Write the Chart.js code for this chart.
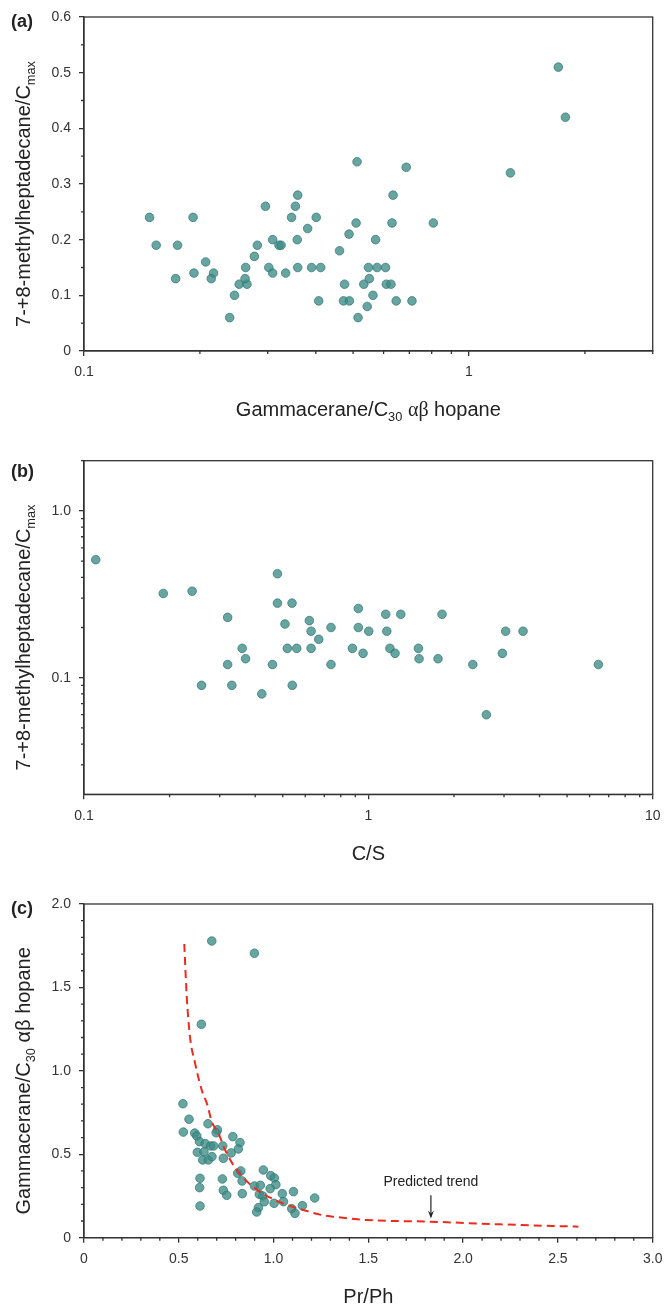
<!DOCTYPE html>
<html><head><meta charset="utf-8">
<script src="https://cdn.jsdelivr.net/npm/chart.js@4.4.1/dist/chart.umd.min.js"></script>
<style>
html,body{margin:0;padding:0;background:#fff;}
#wrap{position:relative;width:664px;height:1305px;background:#fff;}
canvas{position:absolute;left:0;}
</style></head><body>
<div id="wrap">
<canvas id="ca" width="664" height="430" style="top:0px"></canvas>
<canvas id="cb" width="664" height="440" style="top:430px"></canvas>
<canvas id="cc" width="664" height="435" style="top:870px"></canvas>
</div>
<script>
// ---------- Panel (a): Gammacerane/C30 hopane vs 7-+8-methylheptadecane/Cmax ----------
const A_X = [0.148,0.154,0.175,0.173,0.192,0.193,0.207,0.217,0.214,0.239,0.246,0.253,0.265,0.262,0.263,0.277,0.282,0.296,0.302,0.309,0.309,0.321,0.325,0.334,0.346,0.354,0.359,0.358,0.359,0.381,0.390,0.401,0.412,0.407,0.461,0.475,0.472,0.489,0.488,0.509,0.512,0.515,0.533,0.544,0.548,0.551,0.563,0.572,0.577,0.607,0.610,0.627,0.631,0.635,0.647,0.687,0.711,0.808,1.281,1.706,1.780];
const A_Y = [0.24,0.19,0.19,0.13,0.24,0.14,0.16,0.14,0.13,0.06,0.10,0.12,0.12,0.13,0.15,0.17,0.19,0.26,0.15,0.20,0.14,0.19,0.19,0.14,0.24,0.26,0.28,0.20,0.15,0.22,0.15,0.24,0.15,0.09,0.18,0.12,0.09,0.09,0.21,0.23,0.34,0.06,0.12,0.08,0.15,0.13,0.10,0.20,0.15,0.15,0.12,0.12,0.23,0.28,0.09,0.33,0.09,0.23,0.32,0.51,0.42];
const A_XTICKS = [0.1, 1];
const A_XLABELS = ['0.1', '1'];
const A_XMINOR = [0.2,0.3,0.4,0.5,0.6,0.7,0.8,0.9,2,3];
const A_YTICKS = [0,0.1,0.2,0.3,0.4,0.5,0.6];
const A_YLABELS = ['0','0.1','0.2','0.3','0.4','0.5','0.6'];
const A_YMINOR = [0.05,0.15,0.25,0.35,0.45,0.55];

// ---------- Panel (b): C/S vs 7-+8-methylheptadecane/Cmax ----------
const B_X = [0.110,0.190,0.240,0.259,0.320,0.320,0.331,0.360,0.370,0.422,0.460,0.479,0.479,0.509,0.519,0.539,0.540,0.560,0.620,0.629,0.629,0.669,0.739,0.739,0.879,0.922,0.922,0.958,1.003,1.151,1.161,1.191,1.241,1.300,1.500,1.508,1.758,1.816,2.33,2.60,2.96,3.04,3.50,6.44];
const B_Y = [0.51,0.32,0.33,0.09,0.23,0.12,0.09,0.15,0.13,0.08,0.12,0.42,0.28,0.21,0.15,0.28,0.09,0.15,0.22,0.19,0.15,0.17,0.20,0.12,0.15,0.26,0.20,0.14,0.19,0.24,0.19,0.15,0.14,0.24,0.15,0.13,0.13,0.24,0.12,0.06,0.14,0.19,0.19,0.12];
const B_XTICKS = [0.1, 1, 10];
const B_XLABELS = ['0.1', '1', '10'];
const B_XMINOR = [0.2,0.3,0.4,0.5,0.6,0.7,0.8,0.9,2,3,4,5,6,7,8,9];
const B_YTICKS = [0.1, 1];
const B_YLABELS = ['0.1', '1.0'];
const B_YMINOR = [0.03,0.04,0.05,0.06,0.07,0.08,0.09,0.2,0.3,0.4,0.5,0.6,0.7,0.8,0.9,2];

// ---------- Panel (c): Pr/Ph vs Gammacerane/C30 hopane ----------
const C_X = [0.674,0.899,0.619,0.522,0.554,0.524,0.654,0.704,0.697,0.584,0.595,0.609,0.639,0.668,0.684,0.732,0.598,0.633,0.626,0.656,0.675,0.735,0.785,0.823,0.814,0.776,0.811,0.827,0.834,0.612,0.610,0.612,0.730,0.735,0.753,0.835,0.899,0.930,0.946,0.985,1.004,1.012,0.982,0.925,0.943,0.951,1.003,0.920,0.911,1.046,1.052,1.105,1.096,1.113,1.152,1.217];
const C_Y = [1.778,1.705,1.279,0.803,0.710,0.633,0.683,0.646,0.629,0.627,0.610,0.576,0.564,0.550,0.550,0.550,0.512,0.514,0.466,0.466,0.486,0.476,0.606,0.570,0.532,0.508,0.386,0.400,0.340,0.356,0.300,0.190,0.352,0.284,0.254,0.264,0.310,0.314,0.406,0.372,0.358,0.318,0.294,0.260,0.250,0.216,0.206,0.180,0.154,0.264,0.216,0.276,0.174,0.146,0.192,0.238];
const TREND_X = [0.529,0.542,0.559,0.586,0.621,0.651,0.674,0.709,0.744,0.806,0.902,1.008,1.096,1.157,1.254,1.316,1.492,1.826,2.195,2.608];
const TREND_Y = [1.760,1.444,1.205,1.045,0.885,0.795,0.695,0.626,0.526,0.406,0.296,0.226,0.186,0.166,0.136,0.126,0.106,0.096,0.080,0.066];
const C_XTICKS = [0,0.5,1,1.5,2,2.5,3];
const C_XLABELS = ['0','0.5','1.0','1.5','2.0','2.5','3.0'];
const C_XMINOR = [0.1,0.2,0.3,0.4,0.6,0.7,0.8,0.9,1.1,1.2,1.3,1.4,1.6,1.7,1.8,1.9,2.1,2.2,2.3,2.4,2.6,2.7,2.8,2.9];
const C_YTICKS = [0,0.5,1,1.5,2];
const C_YLABELS = ['0','0.5','1.0','1.5','2.0'];
const C_YMINOR = [0.1,0.2,0.3,0.4,0.6,0.7,0.8,0.9,1.1,1.2,1.3,1.4,1.6,1.7,1.8,1.9];
const NOTE_TEXT = 'Predicted trend';
const NOTE_X = 1.83;
const NOTE_TEXT_Y = 0.33, NOTE_ARROW_TOP = 0.255, NOTE_ARROW_TIP = 0.115;

// ---------- styles ----------
const SANS = "'Liberation Sans', Arial, Helvetica, sans-serif";
const SERIF = "'Liberation Serif', 'Times New Roman', serif";
const INK = '#333333';
const PT_FILL = 'rgba(62,140,135,0.78)';
const PT_EDGE = 'rgba(44,118,114,0.9)';

function pts(xs, ys){ return xs.map((x,i)=>({x:x, y:ys[i]})); }

function drawRich(ctx, segs, size){
  let w = 0;
  const items = segs.map(s=>{
    const sz = s.sub ? size*0.64 : size;
    const font = sz + 'px ' + (s.serif ? SERIF : SANS);
    ctx.font = font;
    const m = ctx.measureText(s.t).width;
    w += m;
    return {t:s.t, font:font, m:m, dy: s.sub ? size*0.24 : 0};
  });
  let x = -w/2;
  const base = size*0.36;
  ctx.textAlign = 'left'; ctx.textBaseline = 'alphabetic';
  items.forEach(it=>{ ctx.font = it.font; ctx.fillText(it.t, x, base+it.dy); x += it.m; });
}

const DECOR = {
  ca: { minorX:A_XMINOR, minorY:A_YMINOR, label:'(a)', labelDy:5,
        xTitle:[{t:'Gammacerane/C'},{t:'30',sub:true},{t:' '},{t:'\u03b1\u03b2',serif:true},{t:' hopane'}],
        yTitle:[{t:'7-+8-methylheptadecane/C'},{t:'max',sub:true}] },
  cb: { minorX:B_XMINOR, minorY:B_YMINOR, label:'(b)', labelDy:11,
        xTitle:[{t:'C/S'}],
        yTitle:[{t:'7-+8-methylheptadecane/C'},{t:'max',sub:true}] },
  cc: { minorX:C_XMINOR, minorY:C_YMINOR, label:'(c)', labelDy:5,
        xTitle:[{t:'Pr/Ph'}],
        yTitle:[{t:'Gammacerane/C'},{t:'30',sub:true},{t:' \u03b1\u03b2 hopane'}],
        note:true }
};

const decor = {
  id:'decor',
  afterDraw(chart){
    const d = DECOR[chart.canvas.id]; if(!d) return;
    const ctx = chart.ctx, a = chart.chartArea, sx = chart.scales.x, sy = chart.scales.y;
    ctx.save();
    ctx.strokeStyle = INK; ctx.lineWidth = 1.3;
    ctx.strokeRect(a.left, a.top, a.right-a.left, a.bottom-a.top);
    ctx.beginPath();
    d.minorX.forEach(v=>{ const p = sx.getPixelForValue(v); ctx.moveTo(p, a.bottom); ctx.lineTo(p, a.bottom+3); });
    d.minorY.forEach(v=>{ const p = sy.getPixelForValue(v); ctx.moveTo(a.left-3, p); ctx.lineTo(a.left, p); });
    ctx.stroke();
    ctx.fillStyle = '#222';
    ctx.save(); ctx.translate((a.left+a.right)/2, a.bottom+58); drawRich(ctx, d.xTitle, 20); ctx.restore();
    ctx.save(); ctx.translate(23, (a.top+a.bottom)/2 + 10); ctx.rotate(-Math.PI/2); drawRich(ctx, d.yTitle, 20); ctx.restore();
    ctx.font = 'bold 18px ' + SANS; ctx.textAlign='left'; ctx.textBaseline='middle';
    ctx.fillText(d.label, 11, a.top + d.labelDy);
    if (d.note){
      const nx = sx.getPixelForValue(NOTE_X);
      const ty = sy.getPixelForValue(NOTE_TEXT_Y);
      const y0 = sy.getPixelForValue(NOTE_ARROW_TOP), y1 = sy.getPixelForValue(NOTE_ARROW_TIP);
      ctx.font = '14px ' + SANS; ctx.textAlign='center'; ctx.textBaseline='middle';
      ctx.fillText(NOTE_TEXT, nx, ty);
      ctx.strokeStyle = '#222'; ctx.lineWidth = 1.2;
      ctx.beginPath(); ctx.moveTo(nx, y0); ctx.lineTo(nx, y1-2); ctx.stroke();
      ctx.beginPath(); ctx.moveTo(nx, y1); ctx.lineTo(nx-3, y1-8); ctx.lineTo(nx, y1-5); ctx.lineTo(nx+3, y1-8); ctx.closePath(); ctx.fill();
    }
    ctx.restore();
  }
};

function axis(type, min, max, ticks, labels, dir, size){
  return {
    type:type, min:min, max:max, position: dir==='x' ? 'bottom' : 'left',
    afterBuildTicks: s=>{ s.ticks = ticks.map(v=>({value:v})); },
    afterFit: s=>{
      if(dir==='x') s.height = size; else s.width = size;
      s.paddingLeft = 0; s.paddingRight = 0; s.paddingTop = 0; s.paddingBottom = 0;
    },
    ticks:{ autoSkip:false, maxRotation:0, minRotation:0, padding:8, color:INK,
            font:{size:14, family:SANS}, callback:(v,i)=>labels[i] },
    grid:{ display:true, drawOnChartArea:false, drawTicks:true, tickLength:5, color:INK, lineWidth:1.3 },
    border:{ display:true, color:INK, width:1.3 },
    title:{ display:false }
  };
}

function scatterSet(xs, ys){
  return { type:'scatter', data:pts(xs, ys), backgroundColor:PT_FILL, borderColor:PT_EDGE,
           borderWidth:0.8, pointRadius:4.3, order:1 };
}

function make(id, top, areaBottom, xAxis, yAxis, datasets){
  const cv = document.getElementById(id);
  return new Chart(cv, {
    type:'scatter',
    data:{ datasets:datasets },
    options:{
      responsive:false, animation:false, devicePixelRatio:1,
      layout:{ padding:{ top:top, right:11.3, left:0, bottom:0 } },
      plugins:{ legend:{display:false}, tooltip:{enabled:false} },
      scales:{ x:xAxis(cv.height - areaBottom), y:yAxis }
    },
    plugins:[decor]
  });
}

make('ca', 17, 351,
  h=>axis('logarithmic', 0.1, 3, A_XTICKS, A_XLABELS, 'x', h),
  axis('linear', 0, 0.6, A_YTICKS, A_YLABELS, 'y', 84),
  [scatterSet(A_X, A_Y)]);

make('cb', 30.7, 364.3,
  h=>axis('logarithmic', 0.1, 10, B_XTICKS, B_XLABELS, 'x', h),
  axis('logarithmic', 0.02, 2, B_YTICKS, B_YLABELS, 'y', 84),
  [scatterSet(B_X, B_Y)]);

make('cc', 34, 367.7,
  h=>axis('linear', 0, 3, C_XTICKS, C_XLABELS, 'x', h),
  axis('linear', 0, 2, C_YTICKS, C_YLABELS, 'y', 84),
  [
    { type:'line', data:pts(TREND_X, TREND_Y), showLine:true, borderColor:'#ee2a1f', borderWidth:2,
      borderDash:[8,5], pointRadius:0, fill:false, cubicInterpolationMode:'monotone', order:0 },
    scatterSet(C_X, C_Y)
  ]);
</script>
</body></html>
